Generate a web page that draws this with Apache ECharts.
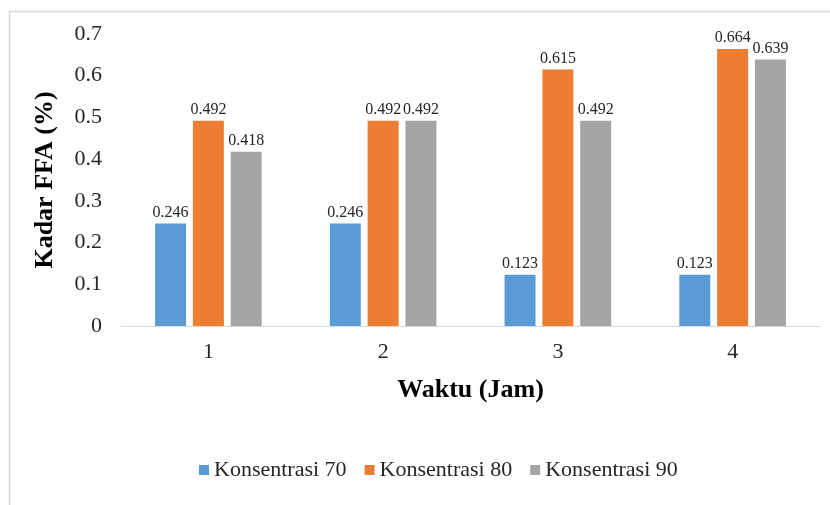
<!DOCTYPE html>
<html><head><meta charset="utf-8">
<script src="https://cdn.jsdelivr.net/npm/echarts@6/dist/echarts.min.js"></script>
<style>html,body{margin:0;padding:0;background:#fff}#c{width:830px;height:505px}</style>
</head><body><div id="c"></div>
<script>
const categories = ['1', '2', '3', '4'];
const konsentrasi70 = [0.246, 0.246, 0.123, 0.123];
const konsentrasi80 = [0.492, 0.492, 0.615, 0.664];
const konsentrasi90 = [0.418, 0.492, 0.492, 0.639];
const seriesNames = ['Konsentrasi 70', 'Konsentrasi 80', 'Konsentrasi 90'];
const colors = ['#5B9BD5', '#ED7D31', '#A5A5A5'];
const FONT = '"Liberation Serif", "Times New Roman", serif';

const chart = echarts.init(document.getElementById('c'), null, {renderer: 'canvas'});
const mk = (name, data, color) => ({
  name, type: 'bar', data,
  barWidth: 31, barGap: '22%',
  itemStyle: {color},
  label: {show: true, position: 'top', distance: 3, fontFamily: FONT, fontSize: 16, color: '#262626'}
});
chart.setOption({
  animation: false,
  textStyle: {fontFamily: FONT},
  graphic: [{
    type: 'rect', shape: {x: 9.5, y: 11.5, width: 900, height: 600},
    style: {fill: 'none', stroke: '#d9d9d9', lineWidth: 1.5}, z: -1
  }],
  grid: {left: 121, right: 10, top: 34, bottom: 179},
  xAxis: {
    type: 'category', data: categories,
    axisLine: {lineStyle: {color: '#d9d9d9', width: 1}},
    axisTick: {show: false},
    axisLabel: {fontFamily: FONT, fontSize: 22, color: '#262626', margin: 15},
    name: 'Waktu (Jam)', nameLocation: 'middle', nameGap: 51,
    nameTextStyle: {fontFamily: FONT, fontSize: 26, fontWeight: 'bold', color: '#000'}
  },
  yAxis: {
    type: 'value', min: 0, max: 0.7, interval: 0.1,
    splitLine: {show: false},
    axisLine: {show: false}, axisTick: {show: false},
    axisLabel: {fontFamily: FONT, fontSize: 22, color: '#262626', margin: 19,
      formatter: v => (v === 0 ? '0' : v.toFixed(1))},
    name: 'Kadar FFA (%)', nameLocation: 'middle', nameGap: 63,
    nameTextStyle: {fontFamily: FONT, fontSize: 26, fontWeight: 'bold', color: '#000'}
  },
  legend: {
    data: seriesNames, left: 194, top: 454,
    itemWidth: 10, itemHeight: 10, itemGap: 18,
    icon: 'rect',
    textStyle: {fontFamily: FONT, fontSize: 22, color: '#262626'}
  },
  series: [
    mk(seriesNames[0], konsentrasi70, colors[0]),
    mk(seriesNames[1], konsentrasi80, colors[1]),
    mk(seriesNames[2], konsentrasi90, colors[2])
  ]
});
</script></body></html>
